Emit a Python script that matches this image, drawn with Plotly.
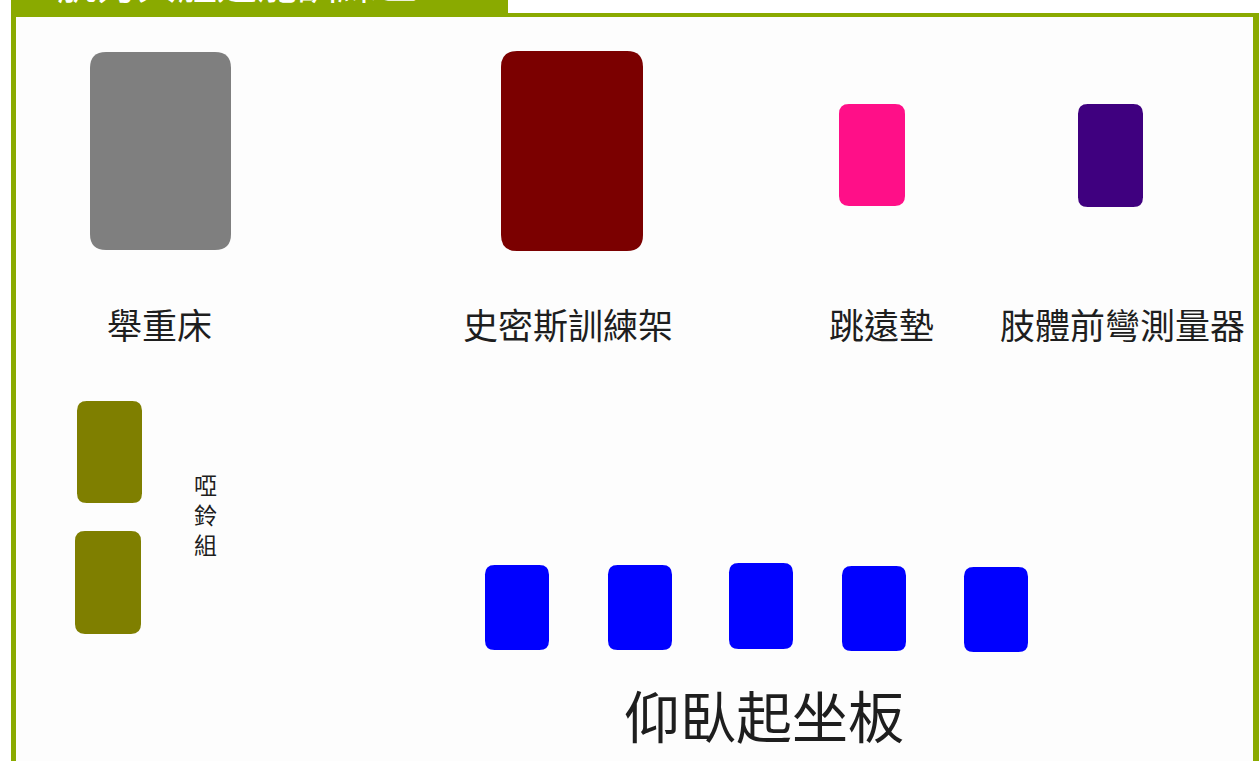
import plotly.graph_objects as go

W, H = 1259, 761

# Equipment blocks (floor plan, pixel units of the layout)
equip_names = ["舉重床", "史密斯訓練架", "跳遠墊", "肢體前彎測量器",
               "啞鈴組", "啞鈴組",
               "仰臥起坐板", "仰臥起坐板", "仰臥起坐板", "仰臥起坐板", "仰臥起坐板"]
equip_x0 = [90, 501, 839, 1078, 77, 75, 485, 608, 729, 842, 964]
equip_x1 = [231, 643, 905, 1143, 142, 141, 549, 672, 793, 906, 1028]
equip_y0 = [52, 51, 104, 104, 401, 531, 565, 565, 563, 566, 567]
equip_y1 = [250, 251, 206, 207, 503, 634, 650, 650, 649, 651, 652]
equip_colors = ["#7f7f7f", "#7b0000", "#ff0f88", "#3f007f",
                "#7f7f00", "#7f7f00",
                "#0000ff", "#0000ff", "#0000ff", "#0000ff", "#0000ff"]

# Labels
label_text = ["舉重床", "史密斯訓練架", "跳遠墊", "肢體前彎測量器", "啞<br>鈴<br>組", "仰臥起坐板"]
label_x = [159, 568, 881, 1122, 205, 764]
label_y = [323, 323, 323, 323, 514, 713]
label_size = [35, 35, 35, 35, 23, 56]

title_text = "肌力與體適能訓練區"

FONT = "Noto Sans CJK TC, Noto Sans CJK SC, sans-serif"
GREEN = "#8aaa00"


def rounded(x0, y0, x1, y1, r):
    return (f"M{x0+r},{y0} L{x1-r},{y0} Q{x1},{y0} {x1},{y0+r} "
            f"L{x1},{y1-r} Q{x1},{y1} {x1-r},{y1} L{x0+r},{y1} "
            f"Q{x0},{y1} {x0},{y1-r} L{x0},{y0+r} Q{x0},{y0} {x0+r},{y0} Z")


fig = go.Figure()
fig.add_trace(go.Scatter(x=[0, W], y=[0, H], mode="markers",
                         marker=dict(opacity=0), hoverinfo="skip", showlegend=False))

shapes = []
# frame background
shapes.append(dict(type="rect", xref="x", yref="y", x0=16, x1=1253, y0=17, y1=H + 5,
                   fillcolor="#fdfdfd", line=dict(width=0), layer="below"))
# frame borders
shapes.append(dict(type="rect", xref="x", yref="y", x0=11, x1=16, y0=0, y1=H + 5,
                   fillcolor=GREEN, line=dict(width=0)))
shapes.append(dict(type="rect", xref="x", yref="y", x0=1253, x1=1259, y0=13, y1=H + 5,
                   fillcolor=GREEN, line=dict(width=0)))
shapes.append(dict(type="rect", xref="x", yref="y", x0=11, x1=1259, y0=13, y1=17,
                   fillcolor=GREEN, line=dict(width=0)))
# title tab
shapes.append(dict(type="rect", xref="x", yref="y", x0=11, x1=508, y0=0, y1=17,
                   fillcolor=GREEN, line=dict(width=0)))

for x0, x1, y0, y1, c in zip(equip_x0, equip_x1, equip_y0, equip_y1, equip_colors):
    r = min(16, (x1 - x0) * 0.15)
    shapes.append(dict(type="path", xref="x", yref="y", path=rounded(x0, y0, x1, y1, r),
                       fillcolor=c, line=dict(width=0)))

annotations = []
for t, x, y, s in zip(label_text, label_x, label_y, label_size):
    annotations.append(dict(x=x, y=y, xref="x", yref="y", text=t, showarrow=False,
                            xanchor="center", yanchor="middle",
                            font=dict(family=FONT, size=s, color="#1e1e1e")))
annotations.append(dict(x=237, y=13, xref="x", yref="y", text=title_text, showarrow=False,
                        xanchor="center", yanchor="bottom",
                        font=dict(family=FONT, size=40, color="#ffffff")))

fig.update_layout(
    width=W, height=H, margin=dict(l=0, r=0, t=0, b=0),
    paper_bgcolor="#ffffff", plot_bgcolor="#ffffff",
    xaxis=dict(range=[0, W], visible=False, fixedrange=True),
    yaxis=dict(range=[H, 0], visible=False, fixedrange=True),
    shapes=shapes, annotations=annotations, showlegend=False,
)

fig.write_html("out.html", config={"displayModeBar": False},
               post_script="document.body.style.margin='0';document.body.style.overflow='hidden';")
